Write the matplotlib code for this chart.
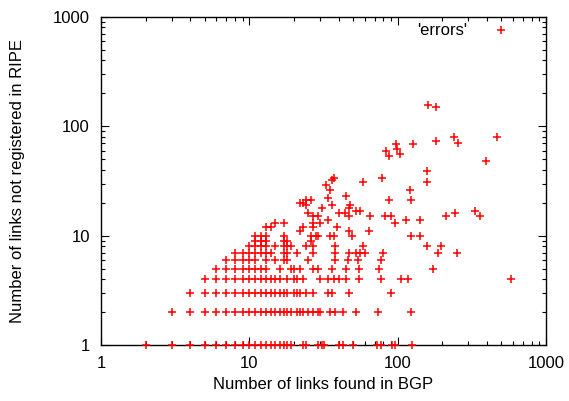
import matplotlib
matplotlib.use("Agg")
import matplotlib.pyplot as plt
from matplotlib.ticker import LogLocator, NullFormatter, FixedLocator

plt.rcParams['font.family'] = ['Liberation Sans', 'DejaVu Sans']

# x values (links found in BGP) for each count of unregistered links
row_1 = [2, 3, 4, 5, 6, 7, 8, 9, 10, 11, 12, 13, 14, 15, 16, 17, 18, 19, 23, 24,
         29, 31, 32, 40, 43, 50, 73, 77, 92, 96, 124]
row_2 = [3, 4, 5, 6, 7, 8, 9, 10, 11, 12, 13, 14, 15, 16, 17, 18, 19, 21, 22, 23,
         25, 27, 29, 30, 35, 38, 43, 52, 74, 123]
row_3 = [4, 5, 6, 7, 8, 9, 10, 11, 12, 13, 14, 15, 16, 17, 18, 20, 21, 22, 24, 27,
         34, 36, 47, 90]
row_4 = [5, 6, 7, 8, 9, 10, 11, 12, 13, 14, 15, 16, 18, 20, 21, 23, 30, 34, 37, 40,
         45, 55, 77, 106, 118, 582]
row_5 = [6, 7, 8, 9, 10, 11, 12, 13, 16, 19, 20, 22, 27, 29, 36, 45, 55, 75, 174]
row_6 = [7, 8, 9, 10, 11, 13, 15, 17, 18, 25, 38, 46, 54, 77]
row_7 = [8, 9, 10, 11, 12, 13, 14, 17, 18, 21, 27, 38, 47, 52, 56, 60, 80, 186, 250]
row_8 = [10, 11, 12, 13, 15, 17, 18, 19, 24, 27, 38, 58, 158, 195]
row_9 = [11, 12, 13, 17, 18, 26]
row_10 = [11, 12, 13, 17, 26, 28, 29, 35, 37, 49, 123, 141]
row_11 = [22, 47, 64]
row_12 = [13, 14, 23, 27, 39]
row_13 = [15, 17, 27, 30, 96]
row_14 = [34, 114, 141]
row_15 = [27, 29, 47, 65, 82, 90, 212, 361]
row_16 = [25, 40, 44, 244]
row_17 = [52, 56, 334]
row_18 = [31, 47]
row_19 = [24, 36, 48]
row_20 = [22, 23]
row_21 = [24, 26, 87, 123]

rows = {1: row_1, 2: row_2, 3: row_3, 4: row_4, 5: row_5, 6: row_6, 7: row_7,
        8: row_8, 9: row_9, 10: row_10, 11: row_11, 12: row_12, 13: row_13,
        14: row_14, 15: row_15, 16: row_16, 17: row_17, 18: row_18, 19: row_19,
        20: row_20, 21: row_21}

# scattered points higher up
upper_x = [45, 34, 33, 35, 36, 37, 58, 78, 121, 158, 157, 88, 104, 83, 99, 98,
           126, 181, 240, 257, 468, 394, 160, 180]
upper_y = [23, 22, 29, 26, 32, 34, 31, 34, 26, 31, 39, 53, 56, 59, 62, 69,
           69, 74, 79, 70, 79, 48, 155, 151]

xs, ys = [], []
for y, row in rows.items():
    xs += row
    ys += [y] * len(row)
xs += upper_x
ys += upper_y

fig = plt.figure(figsize=(5.69, 4.01), dpi=100)
ax = fig.add_axes([101 / 569, 1 - 345.3 / 401, 445 / 569, 328.6 / 401])

ax.plot(xs, ys, linestyle='none', marker='+', color='red', markersize=6,
        markeredgewidth=1.1, label="'errors'", clip_on=False, zorder=5)

ax.set_xscale('log')
ax.set_yscale('log')
ax.set_xlim(1, 1000)
ax.set_ylim(1, 1000)

ax.xaxis.set_major_locator(FixedLocator([1, 10, 100, 1000]))
ax.yaxis.set_major_locator(FixedLocator([1, 10, 100, 1000]))
ax.set_xticklabels(['1', '10', '100', '1000'])
ax.set_yticklabels(['1', '10', '100', '1000'])
ax.xaxis.set_minor_locator(LogLocator(base=10, subs=range(2, 10)))
ax.yaxis.set_minor_locator(LogLocator(base=10, subs=range(2, 10)))
ax.xaxis.set_minor_formatter(NullFormatter())
ax.yaxis.set_minor_formatter(NullFormatter())

ax.tick_params(which='both', direction='in', top=True, right=True,
               labelsize=12, width=0.8, colors='black')
ax.tick_params(which='major', length=6, pad=8)
ax.tick_params(which='minor', length=3)
for s in ax.spines.values():
    s.set_linewidth(1.0)

ax.set_xlabel('Number of links found in BGP', fontsize=12, labelpad=4)
ax.set_ylabel('Number of links not registered in RIPE', fontsize=12, labelpad=20)

ax.legend(loc='upper right', bbox_to_anchor=(0.96, 1.0), frameon=False,
          markerfirst=False, fontsize=12, handlelength=2.5, borderaxespad=0,
          handletextpad=0.75)

fig.savefig('out.png', dpi=100)
